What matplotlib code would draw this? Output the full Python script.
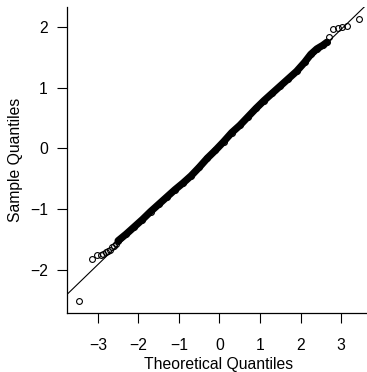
import numpy as np
import matplotlib
matplotlib.use("Agg")
import matplotlib.pyplot as plt

plt.rcParams['font.family'] = ['Liberation Sans', 'DejaVu Sans']

# ===================== DATOS =====================
# cola inferior: puntos sueltos
low_x = [-3.46, -3.155, -3.01, -2.93, -2.87, -2.81, -2.75, -2.69, -2.64, -2.61, -2.55]
low_y = [-2.52, -1.82, -1.755, -1.75, -1.735, -1.71, -1.69, -1.67, -1.63, -1.60, -1.57]

# cuerpo denso (banda de circulos solapados)
body_x = [-2.50, -2.30, -2.10, -1.90, -1.70, -1.50, -1.30, -1.10, -0.90, -0.70,
          -0.50, -0.30, -0.10, 0.10, 0.30, 0.50, 0.70, 0.90, 1.10, 1.30,
          1.50, 1.70, 1.90, 2.10, 2.25, 2.40, 2.55, 2.65]
body_y = [-1.52, -1.41, -1.29, -1.17, -1.04, -0.92, -0.80, -0.68, -0.57, -0.45,
          -0.31, -0.16, -0.03, 0.11, 0.26, 0.38, 0.52, 0.66, 0.79, 0.91,
          1.03, 1.15, 1.27, 1.42, 1.55, 1.64, 1.70, 1.75]

# cola superior
up_x = [2.71, 2.81, 2.91, 3.01, 3.14, 3.45]
up_y = [1.84, 1.97, 1.99, 2.00, 2.02, 2.14]

# recta qqline
line_intercept = 0.025
line_slope = 0.646

x_ticks = [-3, -2, -1, 0, 1, 2, 3]
y_ticks = [-2, -1, 0, 1, 2]

# ===================== GRAFICO =====================
W, H = 367, 372
fig = plt.figure(figsize=(W / 100, H / 100), dpi=100)
ax = fig.add_axes([67 / W, (H - 313) / H, 305 / W, 306 / H])

ax.plot(body_x, body_y, '-', color='black', lw=5.2, solid_capstyle='round', zorder=2)
mk = dict(ls='none', marker='o', ms=4.2, mfc='none', mec='black', mew=0.8, zorder=3)
ax.plot(low_x, low_y, **mk)
ax.plot(body_x, body_y, **mk)
ax.plot(up_x, up_y, **mk)
ax.axline((0, line_intercept), slope=line_slope, color='black', lw=0.8, zorder=4)

ax.set_xlim(-3.76, 3.76)
ax.set_ylim(-2.71, 2.33)
ax.set_xticks(x_ticks)
ax.set_yticks(y_ticks)
ax.spines['top'].set_visible(False)
ax.spines['right'].set_visible(False)
for s in ('left', 'bottom'):
    ax.spines[s].set_linewidth(0.9)
ax.tick_params(axis='both', direction='out', length=7.2, width=0.8, labelsize=11.3)
ax.tick_params(axis='x', pad=10.5)
ax.tick_params(axis='y', pad=6.5)

fig.text(219 / W, 1 - 369.5 / H, "Theoretical Quantiles", ha='center', va='baseline', fontsize=11.3)
fig.text(16 / W, 1 - 160 / H, "Sample Quantiles", ha='center', va='center', rotation=90, fontsize=11.3)

fig.savefig("out.png", dpi=100)
